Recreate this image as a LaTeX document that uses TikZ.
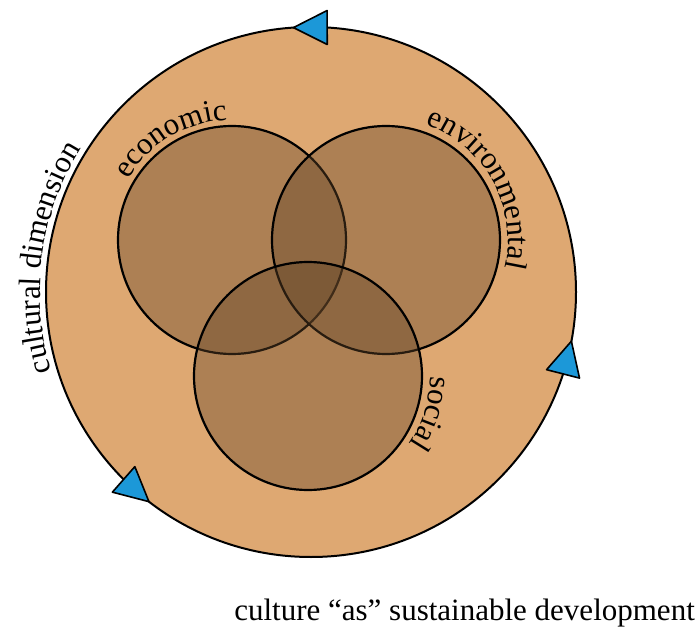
\documentclass[tikz,border=0pt]{standalone}
\usepackage{fontspec}
\setmainfont{Liberation Serif}
\usetikzlibrary{calc,decorations.text}
\definecolor{culturetan}{RGB}{222,168,114}
\definecolor{pillarbrown}{RGB}{100,70,40}
\definecolor{cycleblue}{RGB}{28,152,216}
\newcommand\lbl{\fontsize{31}{37}\selectfont}
\tikzset{
	pillar/.style={draw=black,line width=2.2pt,fill=pillarbrown,fill opacity=0.4},
	arclabel/.style={decorate,decoration={text along path,text={|\lbl|#1},text align=center}},
	cycletip/.style={draw=black,line width=1.6pt,line join=round,fill=cycleblue}
}
\begin{document}
\begin{tikzpicture}[x=1pt,y=1pt]
		\useasboundingbox (0,0) rectangle (699,633);
		\coordinate (O) at (311,341);
		\coordinate (eco) at (232,393);
		\coordinate (env) at (386,393);
		\coordinate (soc) at (308,257);
		\draw[line width=2pt,fill=culturetan] (O) circle[radius=265];
		\foreach \c in {eco,env,soc} \draw[pillar] (\c) circle[radius=114];
		\path[arclabel=cultural dimension] ($(O)+(215:271)$) arc[start angle=215,end angle=130,radius=271];
		\path[arclabel=economic] ($(eco)+(170:120)$) arc[start angle=170,end angle=72,radius=120];
		\path[arclabel=environmental] ($(env)+(89:122)$) arc[start angle=89,end angle=-31,radius=122];
		\path[arclabel=social] ($(soc)+(25:122)$) arc[start angle=25,end angle=-59,radius=122];
		\foreach \a in {86.5,-18,225}{
			\coordinate (b) at ($(O)+(\a:265)$);
			\coordinate (t) at ($(O)+(\a+7.3:265)$);
			\draw[cycletip] (t) -- ($(b)!17pt!90:(t)$) -- ($(b)!17pt!-90:(t)$) -- cycle;
		}
		\node[anchor=base east,font=\lbl,inner sep=0pt] (caption) at (695,13) {culture ``as'' sustainable development};
	\end{tikzpicture}
\end{document}
